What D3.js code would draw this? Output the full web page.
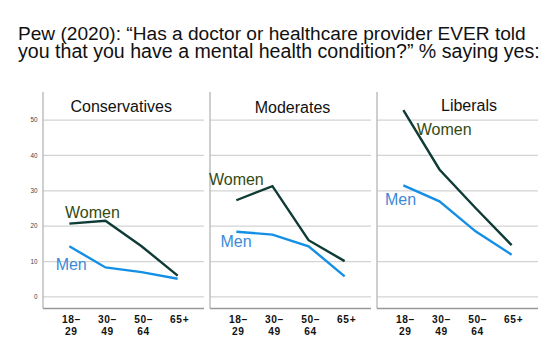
<!DOCTYPE html>
<html><head><meta charset="utf-8">
<script src="https://cdn.jsdelivr.net/npm/d3@7/dist/d3.min.js"></script>
<style>html,body{margin:0;padding:0;background:#fff;}svg{display:block;}</style>
</head><body>
<svg id="chart" width="560" height="358"></svg>
<script>
// ---- data ----
const titleLines = ["Pew (2020): \u201cHas a doctor or healthcare provider EVER told",
                    "you that you have a mental health condition?\u201d % saying yes:"];
const ageGroups = ["18\u201329", "30\u201349", "50\u201364", "65+"];
const ageTickLines = [["18\u2013", "29"], ["30\u2013", "49"], ["50\u2013", "64"], ["65+"]];
const panelNames = ["Conservatives", "Moderates", "Liberals"];
const seriesNames = ["Women", "Men"];
const womenConservatives = [20.6, 21.4, 14.2, 5.9];
const menConservatives   = [14.2, 8.2, 6.9, 5.0];
const womenModerates     = [27.2, 31.2, 15.9, 10.0];
const menModerates       = [18.3, 17.5, 14.2, 5.7];
const womenLiberals      = [52.7, 35.9, 25.0, 14.5];
const menLiberals        = [31.4, 26.9, 18.4, 11.8];
const yTicks = [0, 10, 20, 30, 40, 50];

// ---- layout (positions / styles) ----
const panelX = [43, 210, 377];
const panelW = 161;
const plotTop = 92, plotBottom = 308.5;
const yDomain = [-3.4, 57.8];
const titleDx = [-2.3, 2, 11.5];
const titleBaseline = [112.3, 113, 110.8];
// label anchors: [category position (fractional index), value]
const labelAnchors = [
  { Women: [-0.12, 22.2], Men: [-0.38, 7.6] },
  { Women: [-0.76, 31.6], Men: [-0.44, 13.9] },
  { Women: [0.37, 45.7],  Men: [-0.51, 25.9] }
];
const lineColor = { Women: "#0e3b35", Men: "#138fe6" };
const labelColor = { Women: "#344a12", Men: "#3b8ad8" };

const panelSeries = [
  { Women: womenConservatives, Men: menConservatives },
  { Women: womenModerates, Men: menModerates },
  { Women: womenLiberals, Men: menLiberals }
];

const svg = d3.select("#chart");

// title, fitted to measured widths
const titleTargets = [{x: 18, y: 39.5, w: 508}, {x: 18, y: 58, w: 522}];
titleLines.forEach((t, i) => {
  const tt = svg.append("text").attr("x", titleTargets[i].x).attr("y", titleTargets[i].y)
    .attr("font-family", "Liberation Sans, Arial, sans-serif").attr("font-size", 20)
    .attr("fill", "#111").text(t);
  const len = tt.node().getComputedTextLength();
  tt.attr("font-size", 20 * titleTargets[i].w / len);
});

const y = d3.scaleLinear().domain(yDomain).range([plotBottom, plotTop]);

panelNames.forEach((name, p) => {
  const x0 = panelX[p];
  const g = svg.append("g").attr("transform", `translate(${x0},0)`);
  const x = d3.scalePoint().domain(ageGroups).range([0, panelW]).padding(0.73);

  // gridlines + y labels
  const yAxis = d3.axisLeft(y).tickValues(yTicks).tickSizeInner(-panelW).tickSizeOuter(0).tickPadding(5.5);
  const ya = g.append("g").call(yAxis);
  ya.select(".domain").remove();
  ya.selectAll(".tick line").attr("stroke", "#d3d3d3").attr("stroke-width", 1.3);
  if (p === 0) {
    ya.selectAll(".tick text").attr("font-family", "Liberation Sans, Arial, sans-serif")
      .attr("font-size", 6.3).attr("fill", "#444");
  } else {
    ya.selectAll(".tick text").remove();
  }

  // left vertical line
  g.append("line").attr("x1", 0).attr("x2", 0).attr("y1", plotTop).attr("y2", plotBottom)
    .attr("stroke", "#b5b5b5").attr("stroke-width", 1.3);

  // bottom axis
  const xAxis = d3.axisBottom(x).tickSize(0).tickFormat(() => "");
  const xa = g.append("g").attr("transform", `translate(0,${plotBottom})`).call(xAxis);
  xa.select(".domain").attr("d", `M0,0H${panelW}`).attr("stroke", "#999").attr("stroke-width", 1.6);
  xa.selectAll(".tick text").remove();
  xa.selectAll(".tick").each(function(d, i) {
    const tg = d3.select(this);
    ageTickLines[i].forEach((ln, k) => {
      tg.append("text").attr("x", 1.5).attr("y", 14.5 + k * 12)
        .attr("font-family", "Liberation Sans, Arial, sans-serif").attr("font-weight", 700)
        .attr("font-size", 10.2).attr("letter-spacing", 0.6)
        .attr("fill", "#111").attr("text-anchor", "middle").text(ln);
    });
  });

  // panel title
  g.append("text").attr("x", panelW / 2 + titleDx[p]).attr("y", titleBaseline[p])
    .attr("text-anchor", "middle").attr("font-family", "Liberation Sans, Arial, sans-serif")
    .attr("font-size", 16).attr("fill", "#111").text(name);

  // lines
  const step = x.step();
  seriesNames.forEach(s => {
    const vals = panelSeries[p][s];
    const line = d3.line().x((d, i) => x(ageGroups[i])).y(d => y(d));
    g.append("path").datum(vals).attr("d", line).attr("fill", "none")
      .attr("stroke", lineColor[s]).attr("stroke-width", 2.4).attr("stroke-linejoin", "miter");
    const a = labelAnchors[p][s];
    g.append("text").attr("x", x(ageGroups[0]) + a[0] * step).attr("y", y(a[1]))
      .attr("font-family", "Liberation Sans, Arial, sans-serif").attr("font-size", 16)
      .attr("fill", labelColor[s]).text(s);
  });
});
</script>
</body></html>
